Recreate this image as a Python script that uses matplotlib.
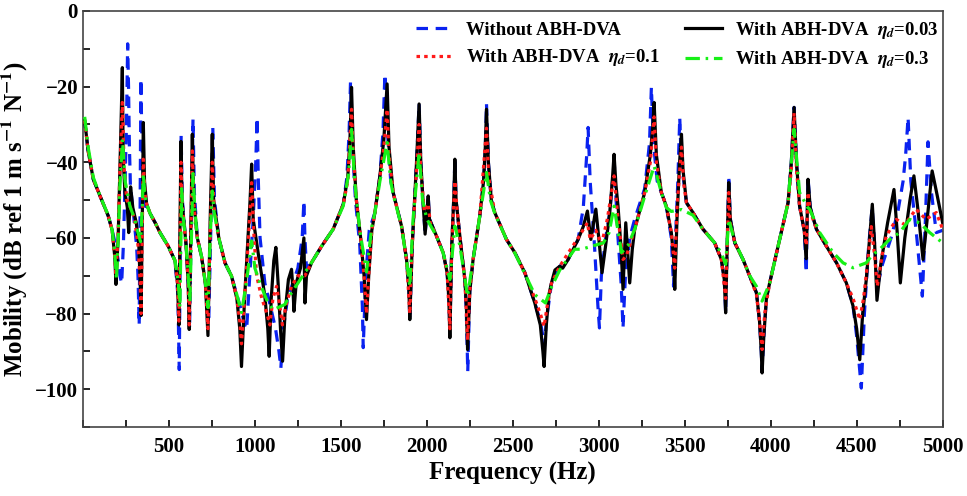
import matplotlib
matplotlib.use("Agg")
import matplotlib.pyplot as plt
from matplotlib.ticker import MultipleLocator, FixedLocator

plt.rcParams['font.family'] = ['Liberation Serif', 'DejaVu Serif']
plt.rcParams['font.weight'] = 'bold'
plt.rcParams['mathtext.fontset'] = 'stix'

# ---- data (frequency in Hz, mobility in dB) ----
f_without = [10, 30, 60, 100, 147, 170, 190, 205, 215, 225, 235, 245, 253, 260, 265, 270, 276, 293, 312, 320,
             327, 332, 337, 342, 350, 360, 370, 390, 420, 448, 496, 535, 552, 560, 566, 571, 578, 600, 612, 620,
             630, 640, 648, 665, 690, 712, 732, 745, 755, 765, 790, 826, 864, 895, 920, 940, 952, 970, 990, 1005,
             1013, 1020, 1030, 1058, 1090, 1120, 1140, 1151, 1165, 1190, 1220, 1250, 1275, 1285, 1291, 1300, 1330,
             1388, 1455, 1514, 1535, 1548, 1556, 1566, 1585, 1610, 1625, 1630, 1645, 1665, 1698, 1727, 1745, 1756,
             1768, 1790, 1804, 1853, 1882, 1895, 1901, 1915, 1940, 1955, 1965, 1980, 1990, 2008, 2015, 2056, 2095,
             2118, 2128, 2134, 2145, 2158, 2163, 2170, 2192, 2221, 2230, 2238, 2250, 2269, 2308, 2330, 2340, 2347,
             2358, 2375, 2395, 2463, 2512, 2570, 2628, 2660, 2675, 2684, 2695, 2725, 2773, 2822, 2880, 2910, 2930,
             2938, 2950, 2975, 2995, 3004, 3015, 3040, 3064, 3080, 3090, 3112, 3130, 3141, 3155, 3180, 3209, 3267,
             3295, 3306, 3318, 3340, 3364, 3393, 3422, 3435, 3442, 3460, 3471, 3480, 3510, 3548, 3606, 3674, 3713,
             3730, 3738, 3750, 3756, 3765, 3791, 3839, 3878, 3917, 3935, 3945, 3950, 3960, 3975, 3994, 4052, 4101,
             4120, 4136, 4150, 4168, 4195, 4207, 4212, 4217, 4230, 4266, 4324, 4383, 4440, 4479, 4500, 4527, 4545,
             4570, 4590, 4605, 4620, 4650, 4700, 4740, 4770, 4785, 4799, 4815, 4850, 4882, 4900, 4915, 4935, 4963,
             5000]
db_without = [-29, -37, -44.5, -49, -54.2, -58, -62, -66, -70, -72, -62, -45, -30, -8.7, -20, -35.7, -46.3, -53.3, -62.2, -70,
              -83, -55, -18, -33, -45, -51.6, -51.5, -53.5, -56, -58.6, -62.2, -66, -75, -94.8, -60, -33, -50, -62, -72, -84,
              -55, -28.6, -48, -60, -65, -72, -81, -55, -30.7, -50, -60, -66.6, -70.1, -75, -79, -83, -84.2, -70, -55, -40,
              -28.2, -45, -60, -72, -78, -84, -90, -94.4, -84, -76, -72, -68, -60, -50.2, -60, -68, -66.5,
              -62.2, -57.7, -51.1, -44, -32, -18.9, -35, -50, -62, -78, -89, -70, -58, -53.3, -43.6, -32, -16.7,
              -30, -45, -48, -56.9, -65.7, -73, -81.6, -62, -40, -24.6, -40, -52, -59, -48.9, -55, -59.5, -63.9,
              -69.2, -76, -84, -62, -48, -38.8, -50, -59.5, -71, -80, -95.3, -74, -65.7, -54.2, -45, -36, -24.6,
              -40, -50, -53.3, -60.4, -63.9, -69.2, -77.2, -82, -86, -88.7, -82, -72, -67.5, -65.7, -60.4, -52, -38,
              -30.8, -45, -62, -78, -83.8, -70, -60, -53.3, -45, -40, -60, -72, -83.8, -70, -60, -55, -47,
              -35, -20.2, -35, -45, -48, -51.6, -60, -72.8, -65, -45, -28.2, -40, -50.7, -53.3, -57.7, -61.3, -65.7,
              -71, -79.8, -56, -43.6, -55, -61.3, -65.7, -70.1, -74.5, -82, -90, -95, -86, -76, -71.9, -60.4, -50.7,
              -40, -25.5, -40, -51.6, -58, -69.2, -55, -44, -52, -57.7, -62.2, -66.6, -71.9, -78, -86, -99.7, -80,
              -62, -52, -62, -73, -67, -60, -53, -45, -38, -28.2, -45, -60, -75.4, -55, -34.6, -48, -58.6,
              -58]

f_eta003 = [10, 30, 60, 100, 147, 170, 185, 192, 205, 215, 223, 229, 234, 244, 258, 266, 277, 290, 310, 325,
            333, 338, 345, 351, 358, 370, 390, 420, 448, 496, 535, 550, 558, 565, 570, 576, 600, 612, 618, 628,
            636, 644, 665, 690, 712, 727, 740, 752, 760, 790, 826, 864, 895, 912, 922, 940, 960, 972, 981, 990,
            1019, 1058, 1075, 1083, 1095, 1110, 1122, 1135, 1150, 1161, 1175, 1195, 1213, 1222, 1227, 1240, 1265,
            1285, 1291, 1300, 1330, 1388, 1455, 1514, 1540, 1553, 1562, 1572, 1590, 1615, 1635, 1649, 1662, 1680,
            1698, 1727, 1750, 1769, 1780, 1804, 1853, 1882, 1895, 1901, 1915, 1940, 1955, 1965, 1980, 1990, 2008,
            2015, 2056, 2095, 2118, 2128, 2134, 2145, 2158, 2163, 2170, 2192, 2221, 2230, 2237, 2250, 2269, 2308,
            2330, 2340, 2347, 2358, 2375, 2395, 2463, 2512, 2570, 2628, 2660, 2675, 2682, 2695, 2710, 2725, 2745,
            2773, 2790, 2822, 2880, 2910, 2934, 2954, 2983, 3000, 3019, 3040, 3064, 3080, 3089, 3100, 3112, 3130,
            3141, 3157, 3170, 3180, 3195, 3209, 3267, 3300, 3315, 3322, 3335, 3364, 3393, 3422, 3435, 3442, 3455,
            3470, 3481, 3490, 3510, 3548, 3606, 3674, 3713, 3730, 3738, 3750, 3756, 3765, 3791, 3839, 3878, 3917,
            3935, 3945, 3950, 3960, 3975, 3994, 4052, 4101, 4120, 4136, 4150, 4168, 4195, 4207, 4212, 4217, 4230,
            4266, 4324, 4383, 4440, 4479, 4500, 4518, 4535, 4556, 4575, 4591, 4605, 4618, 4640, 4680, 4717, 4735,
            4754, 4780, 4810, 4833, 4855, 4886, 4910, 4939, 4965, 5000]
db_eta003 = [-29, -37, -44.5, -49, -54.2, -58, -65, -72.3, -59.5, -42, -27, -15, -39, -48, -52, -58.6, -46.5, -52, -56, -62,
             -72, -80.5, -55, -29.5, -45, -51, -53.5, -56, -58.6, -62.2, -66, -72, -83, -55, -34.5, -50, -62, -72, -84.2, -55,
             -32.6, -50, -60, -65, -72, -85.8, -55, -32.6, -50, -60, -66.6, -70.1, -76, -84, -94, -76, -60, -50, -40.5, -55,
             -64, -75.4, -84, -91.3, -76, -66, -62.5, -72, -85, -92.6, -80, -71, -68.3, -74, -79.4, -72, -68,
             -60, -77.2, -70, -66.5, -62.2, -57.7, -51.1, -44, -34, -20.2, -36, -50, -60, -70, -81.6, -70, -58,
             -53.3, -43.6, -34, -19.3, -36, -48, -56.9, -65.7, -73, -81.6, -62, -40, -24.6, -40, -52, -59, -48.9,
             -55, -59.5, -63.9, -69.2, -76, -86.4, -62, -48, -39.2, -50, -59.5, -71, -78, -89.5, -74, -65.7, -54.2,
             -45, -36, -26, -40, -50, -53.3, -60.4, -63.9, -69.2, -77.2, -83, -90, -94, -83, -75, -71.9, -68.5,
             -67.5, -68, -65.7, -60.4, -57, -52.9, -60.4, -52.4, -60, -69.2, -62, -53.3, -44, -37.9, -46, -51.6, -63,
             -73.6, -56, -65, -71.9, -63, -57.7, -48, -38, -30, -24.2, -38, -48, -51.6, -58.6, -65, -73.6, -55,
             -40, -32.6, -42, -50.7, -53.3, -57.7, -61.3, -65.7, -71, -79.8, -56, -45.4, -55, -61.3, -65.7, -70.1, -74.5,
             -82, -90, -95.7, -86, -76, -71.9, -60.4, -50.7, -40, -25.5, -40, -51.6, -58, -65.5, -55, -44.5, -52,
             -57.7, -62.2, -66.6, -71.9, -78, -84, -92.2, -80, -71, -60, -51.1, -62, -76.5, -67, -56, -47.2, -58,
             -71.9, -60, -50, -43.6, -52, -65.7, -55, -42.3, -48, -56]

f_eta01 = [10, 30, 60, 100, 147, 170, 185, 192, 205, 215, 229, 240, 255, 273, 300, 320, 333, 338, 345, 351,
           360, 370, 390, 420, 448, 496, 535, 550, 558, 565, 570, 578, 600, 612, 618, 628, 636, 646, 665, 690,
           712, 727, 740, 752, 762, 790, 826, 864, 895, 912, 922, 940, 960, 981, 995, 1010, 1040, 1070, 1087, 1105,
           1126, 1145, 1160, 1180, 1213, 1250, 1291, 1330, 1388, 1455, 1514, 1540, 1562, 1572, 1590, 1615, 1635,
           1649, 1662, 1680, 1698, 1727, 1750, 1769, 1780, 1804, 1853, 1882, 1901, 1915, 1940, 1955, 1965, 1985,
           2008, 2020, 2056, 2095, 2118, 2134, 2145, 2163, 2175, 2192, 2221, 2237, 2250, 2269, 2308, 2347, 2360,
           2395, 2463, 2512, 2570, 2628, 2660, 2682, 2700, 2725, 2773, 2822, 2880, 2934, 2950, 2983, 3016, 3050,
           3089, 3110, 3141, 3160, 3180, 3209, 3267, 3300, 3322, 3335, 3364, 3393, 3422, 3442, 3455, 3481, 3495,
           3510, 3548, 3606, 3674, 3713, 3738, 3756, 3765, 3791, 3839, 3878, 3917, 3935, 3950, 3965, 3994, 4052,
           4101, 4120, 4136, 4150, 4168, 4195, 4207, 4217, 4230, 4266, 4324, 4383, 4440, 4479, 4518, 4540, 4560,
           4585, 4605, 4620, 4650, 4672, 4731, 4780, 4845, 4903, 4963, 5000]
db_eta01 = [-29, -37, -44.5, -49, -54.2, -58, -65, -70, -58, -42, -24.2, -42, -50, -51.6, -55, -62, -72, -80, -58, -39.2,
            -48, -51, -53.5, -56, -58.6, -62.2, -66, -72, -82, -58, -40, -52, -62, -72, -83, -58, -37, -52, -60, -65,
            -72, -84, -58, -40, -52, -60, -66.6, -70.1, -76, -82, -88, -76, -62, -45.4, -60, -70, -76, -80, -83, -76,
            -72.8, -78, -83, -78, -72.8, -70, -70, -66.5, -62.2, -57.7, -51.1, -45, -26, -38, -50, -60, -70,
            -80, -70, -58, -53.3, -44, -36, -26, -38, -48, -56.9, -65.7, -80, -62, -42, -30, -42, -53,
            -51, -56, -59.5, -63.9, -69.2, -84, -62, -45, -52, -59.5, -71, -87, -74, -65.7, -54.2, -31, -44,
            -53.3, -60.4, -63.9, -69.2, -76, -80, -83.4, -78, -72, -67.5, -64, -60, -56, -60.4, -58, -61.7, -55,
            -43.6, -54, -65.7, -64.8, -62, -57.7, -48, -40, -28, -40, -48, -51.6, -58.6, -68, -52, -36, -46,
            -50.7, -53.3, -57.7, -61.3, -65.7, -76, -48, -56, -61.3, -65.7, -70.1, -75, -82, -89.5, -80, -71.9, -60.4,
            -50.7, -42, -27, -42, -51.6, -58, -62, -48, -53, -57.7, -62.2, -66.6, -71.9, -76, -81.6, -76, -68,
            -57, -65, -72.8, -64, -59.5, -55.1, -56.5, -52.4, -55.1, -53.3, -57.7]

f_eta03 = [10, 30, 60, 100, 147, 170, 185, 195, 205, 215, 230, 245, 273, 300, 320, 335, 345, 351, 360, 370,
           390, 420, 448, 496, 535, 555, 564, 570, 574, 580, 600, 612, 622, 632, 640, 650, 665, 690, 712, 727,
           740, 752, 762, 790, 826, 864, 895, 922, 950, 981, 1000, 1030, 1068, 1106, 1174, 1213, 1291, 1330, 1388,
           1455, 1514, 1545, 1562, 1580, 1610, 1649, 1680, 1698, 1727, 1769, 1790, 1804, 1853, 1882, 1901, 1920,
           1955, 1975, 2000, 2056, 2095, 2134, 2163, 2192, 2237, 2269, 2308, 2347, 2370, 2395, 2463, 2512, 2570,
           2628, 2690, 2725, 2773, 2860, 2900, 3027, 3060, 3089, 3132, 3170, 3209, 3267, 3322, 3364, 3393, 3422,
           3481, 3548, 3606, 3674, 3713, 3738, 3756, 3791, 3839, 3878, 3917, 3950, 3994, 4052, 4101, 4136, 4168,
           4216, 4227, 4285, 4363, 4421, 4479, 4556, 4585, 4634, 4692, 4750, 4808, 4866, 4925, 5000]
db_eta03 = [-28, -36, -44, -49, -54, -58, -64, -71, -60, -46, -34, -45, -51.6, -55, -58.6, -61, -52, -43, -49, -51,
            -53.5, -56, -58.6, -62.2, -66, -72, -78.4, -60, -47, -53, -62, -70, -76.8, -58, -43, -52, -60, -65, -72, -78.4,
            -60, -47.6, -53, -60, -66.6, -70.1, -75, -79.7, -72, -60.8, -68, -72, -76.3, -79, -77.6, -74.5, -69.2, -66.5, -62.2,
            -57.7, -51.5, -43, -31.3, -45, -58, -69, -57, -53.3, -45, -34.8, -45, -48.5, -57, -66, -72.8, -55,
            -37.4, -50, -55, -59.5, -64, -71, -56.9, -62, -75.4, -65.7, -54.2, -42.7, -50, -53.5, -60.4, -64, -69.5,
            -75, -77.2, -73, -68.5, -63, -63, -61.3, -58.6, -51.6, -63.9, -62, -57.7, -49, -41, -48, -52, -53,
            -52.5, -54, -57.7, -61.3, -64, -67, -55.1, -61, -65.7, -70, -72.8, -76.7, -72, -60.4, -50.7, -31.3, -48,
            -52, -52.4, -58.6, -63.9, -66.6, -67.9, -66.6, -64.8, -63, -60.4, -58.6, -55.1, -56, -58.6, -61.3]

labels = ['Without ABH-DVA',
          r'With ABH-DVA  $\eta_d$=0.03',
          r'With ABH-DVA  $\eta_d$=0.1',
          r'With ABH-DVA  $\eta_d$=0.3']
x_ticks = [500, 1000, 1500, 2000, 2500, 3000, 3500, 4000, 4500, 5000]
y_ticks = [-100, -80, -60, -40, -20, 0]

fig = plt.figure(figsize=(9.67, 4.96), dpi=100)
ax = fig.add_axes([0.0858, 0.139, 0.889, 0.839])

lw = 2.3
l_blue, = ax.plot(f_without, db_without, color='#0a22f0', lw=lw, ls=(0, (3.6, 2.4)), label=labels[0], zorder=2)
l_black, = ax.plot(f_eta003, db_eta003, color='black', lw=lw, ls='-', label=labels[1], zorder=3)
l_red, = ax.plot(f_eta01, db_eta01, color='#ff1a1a', lw=lw, ls=(0, (1.1, 1.3)), label=labels[2], zorder=4)
l_green, = ax.plot(f_eta03, db_eta03, color='#17f017', lw=lw, ls=(0, (4.5, 1.8, 0.8, 1.8)), label=labels[3], zorder=5)

ax.set_xlim(0, 5000)
ax.set_ylim(-110, 0)
ax.xaxis.set_major_locator(FixedLocator(x_ticks))
ax.xaxis.set_minor_locator(MultipleLocator(250))
ax.yaxis.set_major_locator(FixedLocator(y_ticks))
ax.yaxis.set_minor_locator(MultipleLocator(10))
ax.tick_params(which='both', direction='in', labelsize=15, width=1.2)
ax.tick_params(axis='x', which='major', pad=7)
ax.tick_params(which='major', length=5)
ax.tick_params(which='minor', length=5)
for lab in ax.get_xticklabels() + ax.get_yticklabels():
    lab.set_fontweight('bold')
for sp in ax.spines.values():
    sp.set_linewidth(1.2)
    sp.set_color('#444444')

ax.set_xlabel('Frequency (Hz)', fontsize=18, fontweight='bold', labelpad=4)
ax.set_ylabel(r'Mobility (dB ref 1 m s$^{\mathbf{-1}}$ N$^{\mathbf{-1}}$)', fontsize=18, fontweight='bold', labelpad=4)

leg = ax.legend(handles=[l_blue, l_red, l_black, l_green], ncol=2, frameon=False,
                loc='upper left', bbox_to_anchor=(0.374, 1.006), fontsize=13.5,
                handlelength=2.0, columnspacing=1.3, labelspacing=0.45, handletextpad=0.7,
                borderaxespad=0.2)
for t in leg.get_texts():
    t.set_fontweight('bold')

fig.savefig('out.png', dpi=100)
